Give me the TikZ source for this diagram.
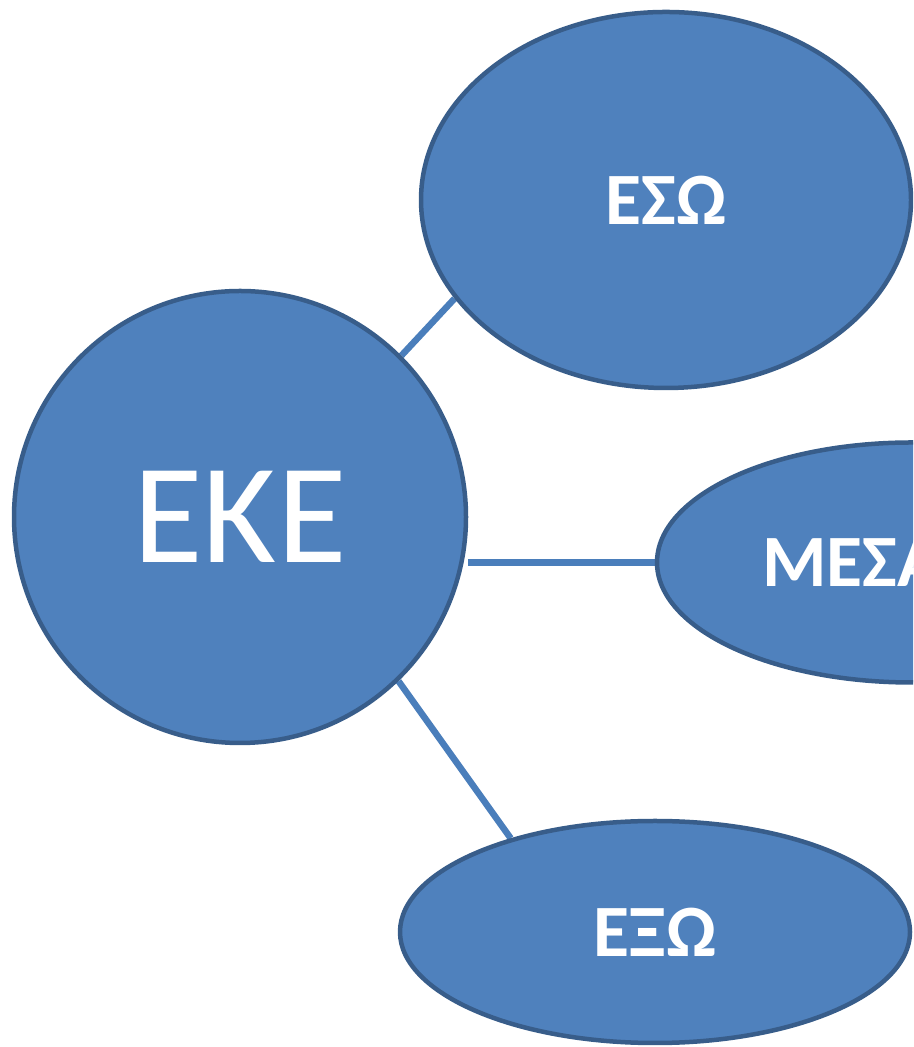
\documentclass[tikz,border=0pt]{standalone}
\usepackage{fontspec}
\setmainfont{Carlito}
\usepackage{xcolor}
\usepackage{tikz}
\usetikzlibrary{shapes.geometric, backgrounds}

\definecolor{topicfill}{HTML}{4F81BD}
\definecolor{topicline}{HTML}{385D8A}
\definecolor{linkline}{HTML}{4A7EBB}

\begin{document}
\begin{tikzpicture}[
        hub/.style={circle, draw=topicline, fill=topicfill, line width=0.09cm, inner sep=0pt, minimum size=9.04cm, text=white, font=\fontsize{81}{90}\selectfont},
        topic/.style={ellipse, draw=topicline, fill=topicfill, line width=0.09cm, inner sep=0pt, text=white, font=\fontsize{42}{48}\selectfont\bfseries},
        link/.style={line width=0.13cm, draw=linkline},
    ]
        \useasboundingbox (0,0) rectangle (18.26,20.94);
        \clip (0,0) rectangle (18.26,20.94);

        % Central node
        \node[hub] (eke) at (4.80,10.60) {EKE};

        % Outer nodes
        \node[topic, minimum width=9.8cm, minimum height=7.52cm] (eso) at (13.32,16.94) {ΕΣΩ};
        \node[topic, minimum width=10.2cm, minimum height=4.80cm] (mesa) at (18.24,9.69) {\makebox[6.0cm][l]{ΜΕΣΑ}};
        \node[topic, minimum width=10.2cm, minimum height=4.44cm] (exo) at (13.10,2.30) {ΕΞΩ};

        % Connectors
        \begin{scope}[on background layer]
            \draw[link] (eke.45) -- (eso.205);
            \draw[link] (eke.east |- mesa.west) -- (mesa.west);
            \draw[link] (eke.-46) -- (exo.147);
        \end{scope}
    \end{tikzpicture}
\end{document}
